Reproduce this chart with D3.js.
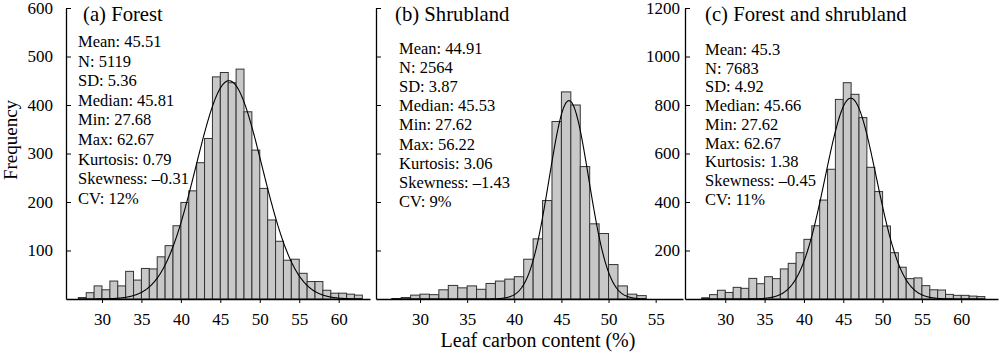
<!DOCTYPE html>
<html>
<head>
<meta charset="utf-8">
<script src="https://cdn.jsdelivr.net/npm/d3@7"></script>
<style>
  html, body { margin: 0; padding: 0; background: #fff; }
  svg { display: block; }
  svg text { font-family: "Liberation Serif", "Times New Roman", serif !important; fill: #000; }
</style>
</head>
<body>
<svg id="chart" width="1000" height="359"></svg>
<script>
// ---------------- data ----------------
const panelTitles = ["(a) Forest", "(b) Shrubland", "(c) Forest and shrubland"];

// histogram bins: left edge of each 1%-wide bin
const binStartsForest = d3.range(27, 63);   // 27 … 62
const binStartsShrub  = d3.range(27, 54);   // 27 … 53
const binStartsAll    = d3.range(27, 63);   // 27 … 62

const forestCounts = [3, 13, 27, 19, 37, 27, 57, 39, 63, 62, 87, 110, 151, 199, 223, 281, 331, 458, 467, 446, 474, 386, 307, 228, 163, 119, 80, 82, 53, 36, 36, 18, 12, 12, 10, 8];
const shrubCounts  = [1, 3, 8, 10, 9, 19, 28, 23, 27, 20, 32, 37, 41, 46, 82, 124, 203, 366, 427, 400, 273, 155, 135, 71, 27, 10, 7];
const allCounts    = [5, 18, 36, 27, 48, 44, 85, 63, 92, 84, 124, 147, 191, 246, 302, 408, 535, 823, 892, 844, 748, 543, 443, 301, 191, 131, 84, 87, 55, 38, 37, 19, 15, 15, 12, 10];

// fitted normal curves (mean, sd, peak frequency) as drawn
const curveForest = { mean: 46.1,  sd: 4.2,  peak: 450 };
const curveShrub  = { mean: 45.8,  sd: 2.1,  peak: 409 };
const curveAll    = { mean: 45.95, sd: 3.25, peak: 828 };

const statsForest = ["Mean: 45.51", "N: 5119", "SD: 5.36", "Median: 45.81", "Min: 27.68", "Max: 62.67", "Kurtosis: 0.79", "Skewness: \u20130.31", "CV: 12%"];
const statsShrub  = ["Mean: 44.91", "N: 2564", "SD: 3.87", "Median: 45.53", "Min: 27.62", "Max: 56.22", "Kurtosis: 3.06", "Skewness: \u20131.43", "CV: 9%"];
const statsAll    = ["Mean: 45.3", "N: 7683", "SD: 4.92", "Median: 45.66", "Min: 27.62", "Max: 62.67", "Kurtosis: 1.38", "Skewness: \u20130.45", "CV: 11%"];

const xTicksForest = [30, 35, 40, 45, 50, 55, 60];
const xTicksShrub  = [30, 35, 40, 45, 50, 55];
const xTicksAll    = [30, 35, 40, 45, 50, 55, 60];
const yTicks600    = [100, 200, 300, 400, 500, 600];
const yTicks1200   = [200, 400, 600, 800, 1000, 1200];

const xAxisTitle = "Leaf carbon content (%)";
const yAxisTitle = "Frequency";

// ---------------- layout ----------------
const svg = d3.select("#chart");
const yBase = 299, yTop = 8;
const FONT_TICK = 17;

const panels = [
  { title: panelTitles[0], bins: binStartsForest, counts: forestCounts, curve: curveForest, stats: statsForest,
    xTicks: xTicksForest, yTicks: yTicks600, yMax: 600, showYLabels: true, yPad: 13,
    x0: 66, x1: 370, dom: [25.44, 63.97], titleX: 83, statsX: 78, statsY0: 47, statsStep: 19.6 },
  { title: panelTitles[1], bins: binStartsShrub, counts: shrubCounts, curve: curveShrub, stats: statsShrub,
    xTicks: xTicksShrub, yTicks: yTicks600, yMax: 600, showYLabels: false, yPad: 5,
    x0: 376, x1: 683, dom: [25.33, 57.9], titleX: 395, statsX: 399, statsY0: 54, statsStep: 19.1 },
  { title: panelTitles[2], bins: binStartsAll, counts: allCounts, curve: curveAll, stats: statsAll,
    xTicks: xTicksAll, yTicks: yTicks1200, yMax: 1200, showYLabels: true, yPad: 5,
    x0: 685, x1: 998, dom: [24.88, 64.67], titleX: 705, statsX: 705, statsY0: 55, statsStep: 18.7 }
];

panels.forEach(p => {
  const x = d3.scaleLinear().domain(p.dom).range([p.x0, p.x1]);
  const y = d3.scaleLinear().domain([0, p.yMax]).range([yBase, yTop]);
  const g = svg.append("g");

  // bars
  g.selectAll("rect.bar").data(p.bins.map((b, i) => ({ b, v: p.counts[i] })))
    .enter().append("rect")
    .attr("class", "bar")
    .attr("x", d => x(d.b))
    .attr("width", d => x(d.b + 1) - x(d.b))
    .attr("y", d => y(d.v))
    .attr("height", d => y(0) - y(d.v))
    .attr("fill", "#c8c8c8")
    .attr("stroke", "#333")
    .attr("stroke-width", 1);

  // fitted normal curve
  const c = p.curve;
  const xs = d3.range(p.bins[0], p.bins[p.bins.length - 1] + 1.0001, 0.05);
  const line = d3.line()
    .x(v => x(v))
    .y(v => y(c.peak * Math.exp(-0.5 * Math.pow((v - c.mean) / c.sd, 2))));
  g.append("path").datum(xs).attr("d", line)
    .attr("fill", "none").attr("stroke", "#000").attr("stroke-width", 1.1);

  // axes
  const xAxis = d3.axisBottom(x).tickValues(p.xTicks).tickFormat(d3.format("d"))
    .tickSize(4).tickPadding(10).tickSizeOuter(0);
  const gx = g.append("g").attr("transform", `translate(0,${yBase})`).call(xAxis);
  gx.attr("font-family", null).attr("font-size", FONT_TICK);
  gx.select(".domain").attr("stroke", "#000").attr("stroke-width", 1.3);
  gx.selectAll("text").attr("font-size", FONT_TICK);

  const yAxis = d3.axisLeft(y).tickValues(p.yTicks).tickFormat(d3.format("d"))
    .tickSize(-5).tickPadding(p.yPad).tickSizeOuter(0);
  const gy = g.append("g").attr("transform", `translate(${p.x0},0)`).call(yAxis);
  gy.attr("font-family", null).attr("font-size", FONT_TICK);
  gy.select(".domain").attr("stroke", "#000").attr("stroke-width", 1.3);
  gy.selectAll("text").attr("font-size", FONT_TICK);
  if (!p.showYLabels) gy.selectAll("text").remove();

  // title and stats
  g.append("text").attr("x", p.titleX).attr("y", 21).attr("font-size", 20.7).text(p.title);
  g.selectAll("text.stat").data(p.stats).enter().append("text")
    .attr("class", "stat")
    .attr("x", p.statsX)
    .attr("y", (d, i) => p.statsY0 + i * p.statsStep)
    .attr("font-size", 16.5)
    .text(d => d);
});

svg.append("text").attr("x", 538).attr("y", 347).attr("text-anchor", "middle")
  .attr("font-size", 20).text(xAxisTitle);
svg.append("text").attr("transform", "translate(16.5,140) rotate(-90)").attr("text-anchor", "middle")
  .attr("font-size", 19).text(yAxisTitle);
</script>
</body>
</html>
